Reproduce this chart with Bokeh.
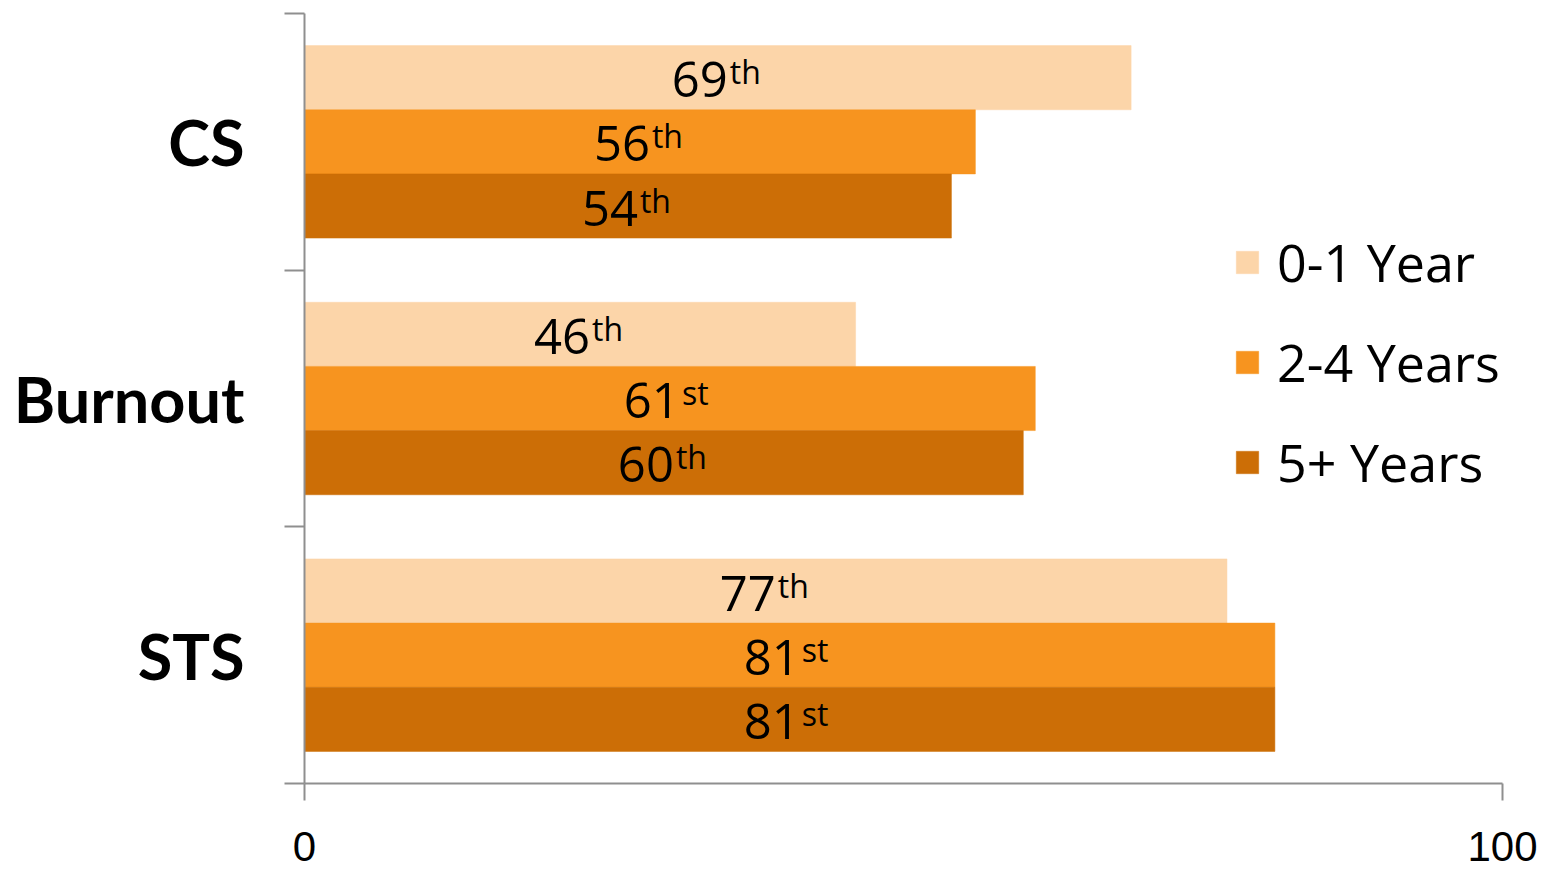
from bokeh.plotting import figure
from bokeh.models import (Range1d, FixedTicker, Legend, LegendItem, ColumnDataSource)
from bokeh.core.properties import value
from bokeh.embed import file_html
from bokeh.resources import INLINE

categories = ["CS", "Burnout", "STS"]
series = ["0-1 Year", "2-4 Years", "5+ Years"]
colors = ["#FCD5A9", "#F7941F", "#CC6E06"]
values = {
    "0-1 Year": [69, 46, 77],
    "2-4 Years": [56, 61, 81],
    "5+ Years": [54, 60, 81],
}
suffixes = {
    "0-1 Year": ["th", "th", "th"],
    "2-4 Years": ["th", "st", "st"],
    "5+ Years": ["th", "th", "st"],
}
x_ticks = [0, 100]

n = len(categories)
cat_pos = [n - 0.5 - i for i in range(n)]  # CS on top
offsets = [0.25, 0.0, -0.25]

p = figure(width=1552, height=871, x_range=Range1d(0, 100), y_range=Range1d(0, n),
           output_backend="svg", toolbar_location=None,
           min_border_left=304, min_border_right=50, min_border_top=13, min_border_bottom=88,
           frame_width=1198, frame_height=770)
p.grid.visible = False
p.outline_line_color = None
p.background_fill_color = "white"
p.border_fill_color = "white"

items = []
sources = []
for s, c, off in zip(series, colors, offsets):
    vals = values[s]
    src = ColumnDataSource(dict(
        y=[cp + off for cp in cat_pos],
        v=vals,
        mid=[v / 2 for v in vals],
        num=[str(v) for v in vals],
        suf=suffixes[s],
    ))
    sources.append(src)
    r = p.hbar(y="y", right="v", left=0, height=0.25, source=src,
               fill_color=c, line_color=c, line_width=0.5)
    items.append(LegendItem(label=s, renderers=[r]))

for src in sources:
    p.text(x="mid", y="y", text="num", source=src, text_align="right",
           text_baseline="alphabetic", x_offset=10, y_offset=2,
           text_font=value("Open Sans"), text_font_size="49px", text_color="black")
    p.text(x="mid", y="y", text="suf", source=src, text_align="left",
           text_baseline="alphabetic", x_offset=12, y_offset=-6,
           text_font=value("Open Sans"), text_font_size="32px", text_color="black")

# Axes
ax = p.xaxis[0]
ax.ticker = FixedTicker(ticks=x_ticks)
ax.axis_line_color = "#8f8f8f"
ax.axis_line_width = 2
ax.major_tick_line_color = "#8f8f8f"
ax.major_tick_line_width = 2
ax.major_tick_out = 17
ax.major_tick_in = 0
ax.minor_tick_line_color = None
ax.major_label_text_font = "Liberation Sans"
ax.major_label_text_font_size = "42px"
ax.major_label_text_color = "black"
ax.major_label_standoff = 31

ay = p.yaxis[0]
ay.ticker = FixedTicker(ticks=cat_pos, minor_ticks=[float(i) for i in range(n + 1)])
ay.major_label_overrides = {cp: c for cp, c in zip(cat_pos, categories)}
ay.axis_line_color = "#8f8f8f"
ay.axis_line_width = 2
ay.major_tick_line_color = None
ay.major_tick_out = 0
ay.major_tick_in = 0
ay.minor_tick_line_color = "#8f8f8f"
ay.minor_tick_line_width = 2
ay.minor_tick_out = 20
ay.minor_tick_in = 0
ay.major_label_text_font = "Lato"
ay.major_label_text_font_style = "bold"
ay.major_label_text_font_size = "63px"
ay.major_label_text_color = "black"
ay.major_label_standoff = 40

legend = Legend(items=items, location=(929, 286), orientation="vertical")
legend.glyph_width = 28
legend.glyph_height = 28
legend.label_text_font = "Open Sans"
legend.label_text_font_size = "52px"
legend.label_text_color = "black"
legend.label_standoff = 16
legend.spacing = 29
legend.padding = 0
legend.margin = 0
legend.border_line_color = None
legend.background_fill_alpha = 0
p.add_layout(legend)

open("out.html", "w").write(file_html(p, INLINE))
